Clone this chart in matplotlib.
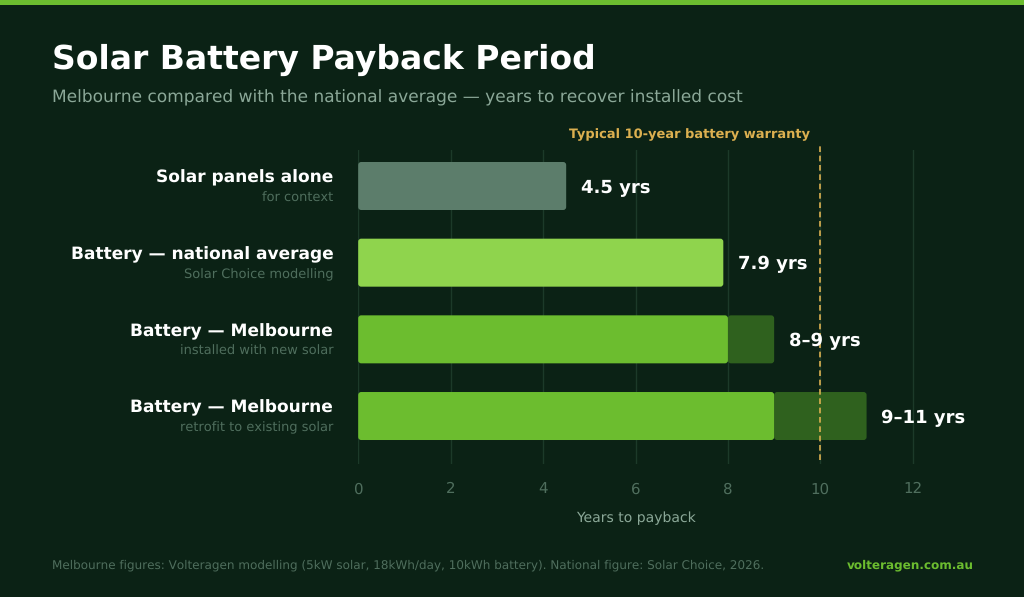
import matplotlib
matplotlib.use("Agg")
import matplotlib.pyplot as plt
from matplotlib.patches import FancyBboxPatch, Rectangle

plt.rcParams["text.hinting"] = "no_hinting"
plt.rcParams["text.hinting_factor"] = 1

W, H = 1024, 597

# Dados
labels = ["Solar panels alone", "Battery — national average", "Battery — Melbourne", "Battery — Melbourne"]
sublabels = ["for context", "Solar Choice modelling", "installed with new solar", "retrofit to existing solar"]
low_values = [4.5, 7.9, 8, 9]
high_values = [4.5, 7.9, 9, 11]
value_labels = ["4.5 yrs", "7.9 yrs", "8–9 yrs", "9–11 yrs"]
bar_colors = ["#5c7d6b", "#8fd44d", "#6cbd2f", "#6cbd2f"]
x_ticks = [0, 2, 4, 6, 8, 10, 12]
warranty_years = 10

BG = "#0b2215"
GRID = "#1c3a29"
RANGE = "#2f611e"
FAINT = "#4f6e5d"
MUTED = "#8ba898"
GOLD = "#dcb050"

fig = plt.figure(figsize=(W / 100, H / 100), dpi=100, facecolor=BG)

# barra verde no topo
fig.add_artist(Rectangle((0, 1 - 5 / H), 1, 5 / H, transform=fig.transFigure, color="#6cbd2f", lw=0))


def fig_text(x, y, s, **kw):
    return fig.text(x / W, 1 - y / H, s, **kw)


fig_text(52, 60, "Solar Battery Payback Period", color="white", fontsize=23.6, fontweight="bold", va="center")
fig_text(52, 97.6, "Melbourne compared with the national average — years to recover installed cost",
         color=MUTED, fontsize=12.17, va="center")

# eixo posicionado em pixels: x=0 em 358.2, x=12 em 912.8
px_per_year = (912.8 - 358.2) / 12
ax_left, ax_right = 358.2, 1000
ax_top, ax_bottom = 150, 464
ax = fig.add_axes([ax_left / W, 1 - ax_bottom / H, (ax_right - ax_left) / W, (ax_bottom - ax_top) / H])
ax.set_facecolor("none")
ax.set_xlim(0, (ax_right - ax_left) / px_per_year)
px_per_row = 76.67
ax.set_ylim((ax_bottom - 186) / px_per_row, -(186 - ax_top) / px_per_row)
for side in ax.spines.values():
    side.set_visible(False)

ax.set_yticks([])
ax.set_xticks(x_ticks)
ax.tick_params(axis="x", length=0, pad=13, labelcolor=FAINT, labelsize=10.5)
ax.grid(axis="x", color=GRID, lw=1)
ax.set_axisbelow(True)

bar_h = 48 / px_per_row
aspect = px_per_year / px_per_row
round_size = 3 / px_per_year


def rounded_bar(x0, x1, row, color, z):
    patch = FancyBboxPatch((x0, row - bar_h / 2), x1 - x0, bar_h,
                           boxstyle=f"round,pad=0,rounding_size={round_size}",
                           mutation_aspect=aspect, fc=color, ec="none", zorder=z)
    ax.add_patch(patch)


for row in range(len(labels)):
    rounded_bar(0, low_values[row], row, bar_colors[row], 3)
    if high_values[row] > low_values[row]:
        rounded_bar(low_values[row], high_values[row], row, RANGE, 2)
    ax.annotate(value_labels[row], (high_values[row], row), xytext=(14.5, -2), textcoords="offset pixels",
                color="white", fontsize=13.2, fontweight="bold", va="center", zorder=6)
    ax.annotate(labels[row], (0, row - 0.125), xytext=(-25, -1.5), textcoords="offset pixels", annotation_clip=False,
                color="white", fontsize=12.5, fontweight="bold", ha="right", va="center")
    ax.annotate(sublabels[row], (0, row + 0.14), xytext=(-25, -1), textcoords="offset pixels", annotation_clip=False,
                color=FAINT, fontsize=9.1, ha="right", va="center")

ax.axvline(warranty_years, color=GOLD, lw=1.2, ls=(0, (3.4, 2.2)), zorder=5, ymin=4 / 314, ymax=1 + 7 / 314, clip_on=False)
ax.annotate("Typical 10-year battery warranty", (warranty_years, 1), xytext=(-10, 15.5), textcoords="offset pixels",
            xycoords=("data", "axes fraction"), annotation_clip=False, color=GOLD, fontsize=9.0, fontweight="bold",
            ha="right", va="center")

fig_text(636, 518, "Years to payback", color=MUTED, fontsize=10, ha="center", va="center")
fig_text(52, 565.5, "Melbourne figures: Volteragen modelling (5kW solar, 18kWh/day, 10kWh battery). National figure: Solar Choice, 2026.",
         color=FAINT, fontsize=8.65, va="center")
fig_text(973.5, 565.5, "volteragen.com.au", color="#6cbd2f", fontsize=8.55, fontweight="bold", ha="right", va="center")

fig.savefig("out.png", dpi=100, facecolor=BG)
